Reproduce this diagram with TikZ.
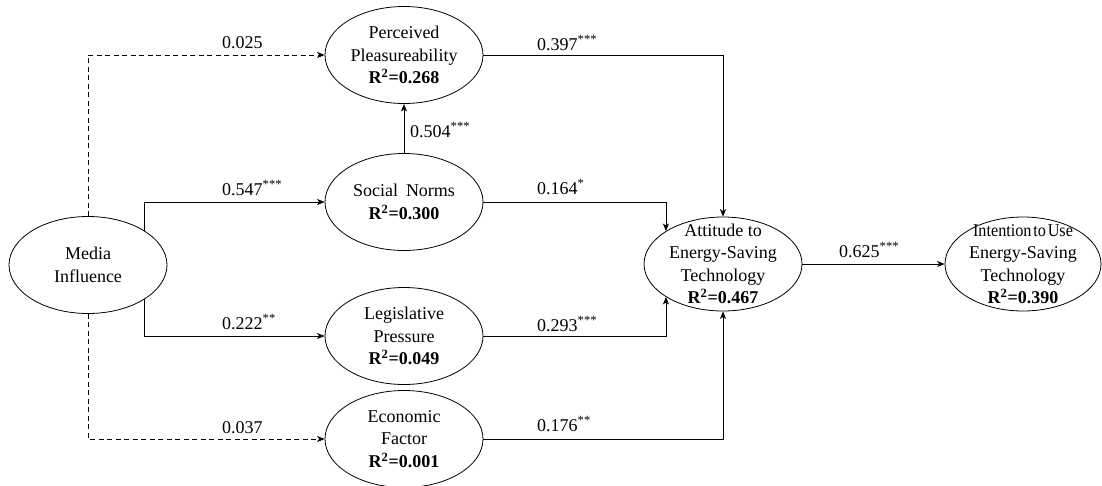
\documentclass[tikz,border=0pt]{standalone}
\usepackage{fontspec}
\usepackage{graphicx}
\setmainfont{Liberation Serif}
\usetikzlibrary{shapes.geometric,arrows.meta}
\begin{document}
\begin{tikzpicture}[x=1pt,y=-1pt,
  font=\fontsize{18}{22.5}\selectfont,
  lat/.style={ellipse, draw, line width=0.8pt, minimum width=158pt, minimum height=97pt, inner sep=0pt},
  latsm/.style={lat, minimum height=94pt},
  txt/.style={align=center, inner sep=0pt},
  arr/.style={-{Stealth[length=7.5pt,width=6pt,inset=2pt]}, line width=0.8pt},
  dsh/.style={dash pattern=on 5pt off 3.5pt},
  coef/.style={anchor=base west, inner sep=0pt}]
\useasboundingbox (0,0) rectangle (1102,485);

% latent variables
\node[lat] (mi) at (88,265) {};
\node[txt] (mit) at (mi) {Media\\Influence};
\node[lat] (pp) at (404,55) {};
\node[txt] (ppt) at (pp) {Perceived\\Pleasureability\\\textbf{R\textsuperscript{2}=0.268}};
\node[lat] (sn) at (404,202) {};
\node[txt] (snt) at (sn) {Social\hspace{8pt}Norms\\\textbf{R\textsuperscript{2}=0.300}};
\node[lat] (lp) at (404,336) {};
\node[txt] (lpt) at (lp) {Legislative\\Pressure\\\textbf{R\textsuperscript{2}=0.049}};
\node[lat] (ef) at (404,439) {};
\node[txt] (eft) at (ef) {Economic\\Factor\\\textbf{R\textsuperscript{2}=0.001}};
\node[latsm] (at) at (723,264) {};
\node[txt] (att) at (at) {Attitude to\\Energy-Saving\\Technology\\\textbf{R\textsuperscript{2}=0.467}};
\node[latsm, minimum width=156pt] (it) at (1023,264) {};
\node[txt] (itt) at (it) {\scalebox{0.9}[1]{Intention\hspace{2pt}to\hspace{2pt}Use}\\Energy-Saving\\Technology\\\textbf{R\textsuperscript{2}=0.390}};

% paths
\draw[arr, dsh] (mi.north) |- (pp.west);
\draw[arr] (mi.31) |- (sn.west);
\draw[arr] (mi.-31) |- (lp.west);
\draw[arr, dsh] (mi.south) |- (ef.west);
\draw[arr] (sn.north) -- (pp.south);
\draw[arr] (pp.east) -| (at.north);
\draw[arr] (sn.east) -| (at.150);
\draw[arr] (lp.east) -| (at.210);
\draw[arr] (ef.east) -| (at.south);
\draw[arr] (at.east) -- (it.west);

% coefficients
\node[coef] (c1) at (222,48) {0.025};
\node[coef] (c2) at (222,195) {0.547\textsuperscript{***}};
\node[coef] (c3) at (222,329) {0.222\textsuperscript{**}};
\node[coef] (c4) at (222,433) {0.037};
\node[coef] (c5) at (410,137) {0.504\textsuperscript{***}};
\node[coef] (c6) at (537,50) {0.397\textsuperscript{***}};
\node[coef] (c7) at (537,194) {0.164\textsuperscript{*}};
\node[coef] (c8) at (537,331) {0.293\textsuperscript{***}};
\node[coef] (c9) at (537,431) {0.176\textsuperscript{**}};
\node[coef] (c10) at (839,257) {0.625\textsuperscript{***}};
\end{tikzpicture}
\end{document}
